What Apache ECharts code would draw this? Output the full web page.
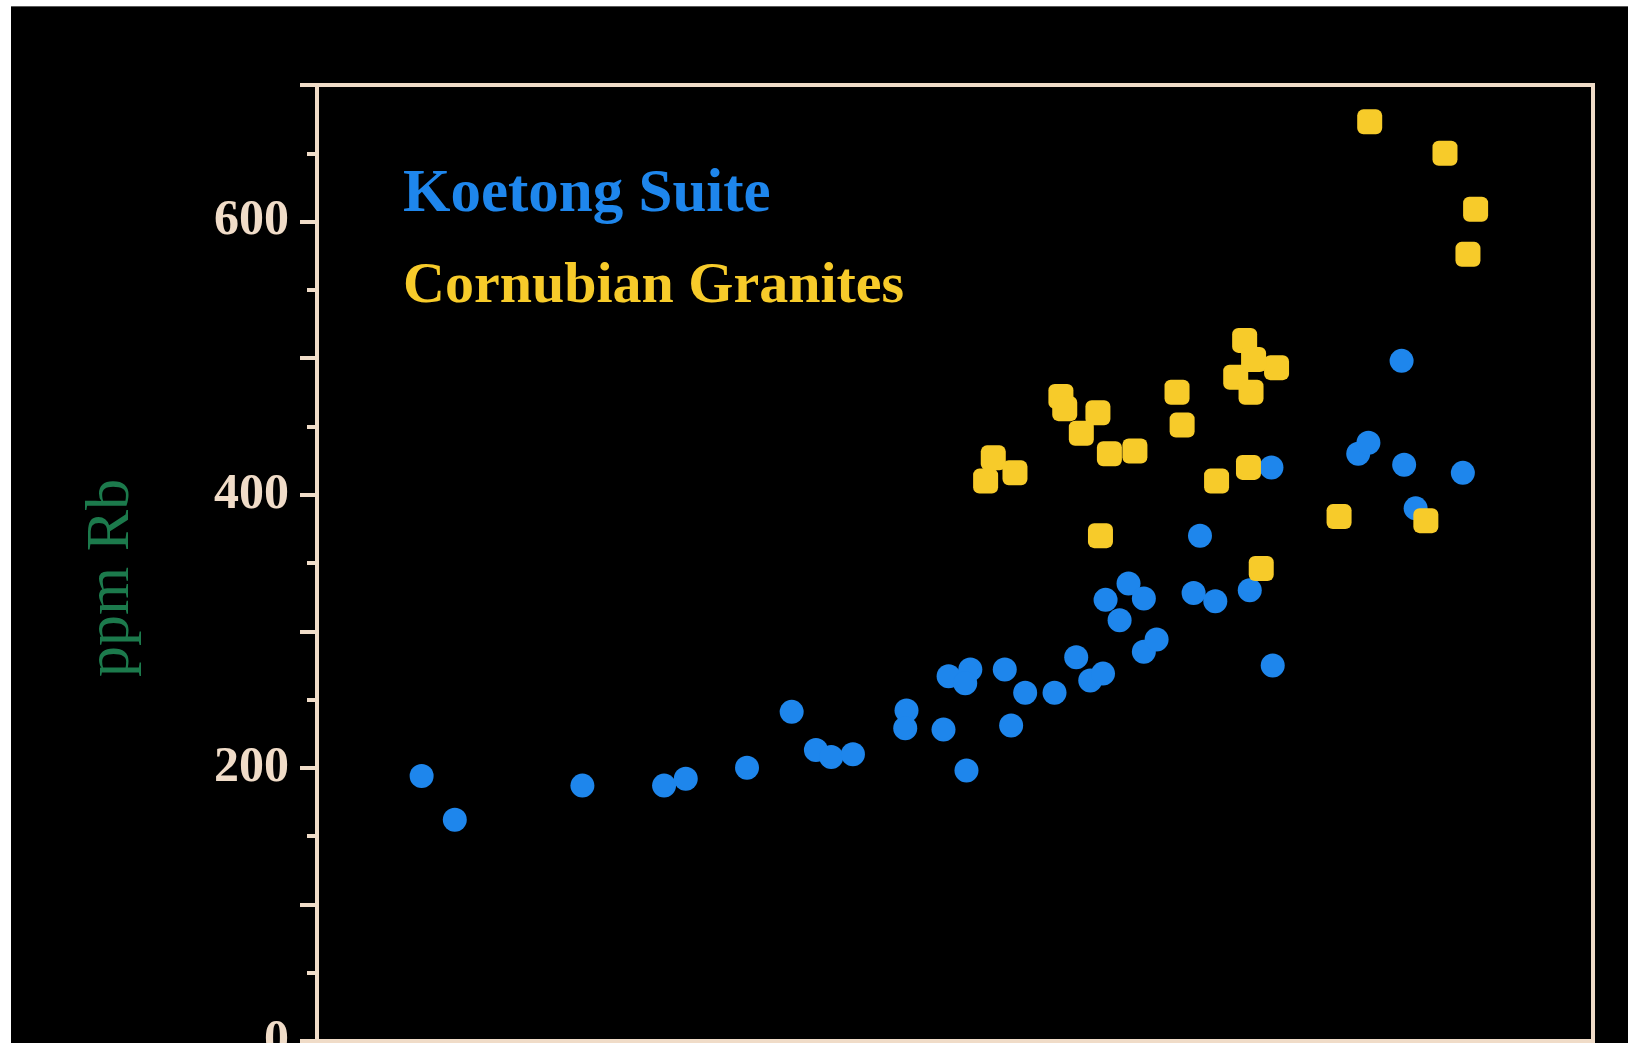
<!DOCTYPE html>
<html>
<head>
<meta charset="utf-8">
<script src="https://cdn.jsdelivr.net/npm/echarts@6/dist/echarts.min.js"></script>
<style>
  html, body { margin: 0; padding: 0; background: #ffffff; }
  #chart { width: 1628px; height: 1043px; }
</style>
</head>
<body>
<div id="chart"></div>
<script>
// ---- data (x in % of the horizontal axis span, y in ppm Rb) ----
const seriesNames = ['Koetong Suite', 'Cornubian Granites'];

const koetongX = [8.2, 10.8, 20.8, 27.2, 28.9, 33.7, 37.2, 39.1, 40.3, 42.0,
  46.2, 46.1, 49.1, 50.9, 49.5, 51.2, 50.8, 53.9, 54.4, 55.5,
  57.8, 59.5, 60.6, 61.6, 61.8, 62.9, 63.6, 64.8, 64.8, 65.8,
  68.7, 69.2, 70.4, 73.1, 74.8, 74.9, 81.6, 82.4, 85.0, 85.2,
  86.1, 89.8];
const koetongRb = [194, 162, 187, 187, 192, 200, 241, 213, 208, 210,
  242, 229, 228, 198, 267, 272, 262, 272, 231, 255,
  255, 281, 264, 269, 323, 308, 335, 324, 285, 294,
  328, 370, 322, 330, 420, 275, 430, 438, 498, 422,
  390, 416];

const cornubianX = [52.4, 53.0, 54.7, 58.3, 58.6, 61.2, 59.9, 62.1, 64.1, 61.4,
  67.4, 67.8, 70.5, 73.0, 72.7, 72.0, 75.2, 73.2, 73.4, 74.0,
  80.1, 86.9, 82.5, 88.4, 90.8, 90.2];
const cornubianRb = [410, 427, 416, 472, 463, 460, 445, 430, 432, 370,
  475, 451, 410, 420, 513, 486, 493, 475, 499, 346,
  384, 381, 673, 650, 609, 576];

const yTickValues = [0, 100, 200, 300, 400, 500, 600, 700];
const yTickLabels = ['0', '', '200', '', '400', '', '600', ''];

const blue = '#1e86ec';
const yellow = '#f7cb2a';
const cream = '#f0dcc8';

function pairs(xs, ys) { return xs.map((x, i) => [x, ys[i]]); }

const chart = echarts.init(document.getElementById('chart'), null, { renderer: 'canvas' });
chart.setOption({
  backgroundColor: '#000000',
  animation: false,
  graphic: [
    { type: 'rect', left: 0, top: 0, shape: { width: 1628, height: 6 }, style: { fill: '#ffffff' }, z: 100 },
    { type: 'rect', left: 0, top: 0, shape: { width: 11, height: 1043 }, style: { fill: '#ffffff' }, z: 100 },
    { type: 'rect', left: 11, top: 6, shape: { width: 1617, height: 1 }, style: { fill: '#5a5a5a' }, z: 100 }
  ],
  grid: {
    left: 317, right: 35, top: 85, bottom: 2,
    outerBoundsMode: 'none',
    containLabel: false,
    show: true, borderColor: cream, borderWidth: 4, backgroundColor: 'transparent'
  },
  legend: {
    orient: 'vertical',
    left: 393,
    top: 160,
    icon: 'none',
    itemWidth: 0,
    itemHeight: 0,
    itemGap: 32,
    selectedMode: false,
    textStyle: { fontFamily: 'Liberation Serif' },
    data: [
      { name: seriesNames[0], textStyle: { color: blue, fontSize: 61, fontWeight: 'bold' } },
      { name: seriesNames[1], textStyle: { color: yellow, fontSize: 58, fontWeight: 'bold' } }
    ]
  },
  xAxis: {
    type: 'value', min: 0, max: 100,
    axisLine: { show: true, lineStyle: { color: cream, width: 4 } },
    axisTick: { show: false },
    axisLabel: { show: false },
    splitLine: { show: false }
  },
  yAxis: {
    type: 'value', min: 0, max: 700, interval: 100,
    name: 'ppm Rb',
    nameLocation: 'middle',
    nameRotate: 90,
    nameGap: 174,
    nameTextStyle: { color: '#1c7a4c', fontFamily: 'Liberation Serif', fontSize: 62, padding: [0, 30, 0, 0] },
    axisLine: { show: true, lineStyle: { color: cream, width: 4 } },
    axisTick: { show: true, length: 17, lineStyle: { color: cream, width: 4 } },
    minorTick: { show: true, splitNumber: 2, length: 10, lineStyle: { color: cream, width: 4 } },
    axisLabel: {
      margin: 28,
      color: cream,
      fontFamily: 'Liberation Serif',
      fontWeight: 'bold',
      fontSize: 50,
      formatter: function (v) {
        const i = yTickValues.indexOf(v);
        return i >= 0 ? yTickLabels[i] : '';
      }
    },
    splitLine: { show: false }
  },
  series: [
    {
      name: seriesNames[0], type: 'scatter', symbol: 'circle', symbolSize: 24,
      itemStyle: { color: blue, opacity: 1 },
      data: pairs(koetongX, koetongRb), z: 2
    },
    {
      name: seriesNames[1], type: 'scatter', symbol: 'roundRect', symbolSize: 25,
      itemStyle: { color: yellow, opacity: 1 },
      data: pairs(cornubianX, cornubianRb), z: 3
    }
  ]
});
</script>
</body>
</html>
